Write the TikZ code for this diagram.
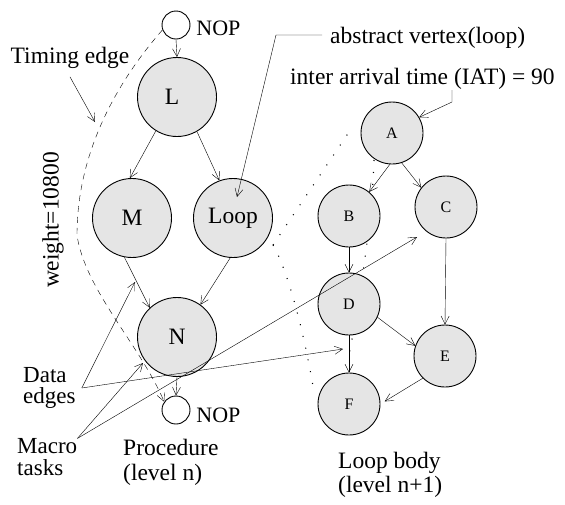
\documentclass[tikz,border=0pt]{standalone}
\usepackage{fontspec}
\setmainfont{Liberation Serif}
\usetikzlibrary{arrows.meta,calc,backgrounds}
\definecolor{cgray}{RGB}{229,229,229}
\begin{document}
\begin{tikzpicture}[x=1pt,y=-1pt,line width=0.9pt,
  bigc/.style={circle,draw,fill=cgray,minimum size=79pt,inner sep=0pt,font=\fontsize{23.5}{26}\selectfont},
  smallc/.style={circle,draw,fill=cgray,minimum size=62pt,inner sep=0pt,font=\fontsize{16}{18}\selectfont},
  nopc/.style={circle,draw,fill=white,minimum size=28pt,inner sep=0pt},
  lbl/.style={inner sep=0pt,font=\fontsize{23.5}{26}\selectfont},
  noplbl/.style={inner sep=0pt,font=\fontsize{22}{24}\selectfont,anchor=west},
  arr/.style={-{Straight Barb[length=8pt,width=8pt]}},
  timingline/.style={dash pattern=on 6pt off 5pt},
  dotl/.style={line width=1.1pt,dash pattern=on 1pt off 11pt}]
\useasboundingbox (0,0) rectangle (565,504);

% procedure level
\node[nopc] (nop1) at (176,25) {};
\node[noplbl] (nop1t) at (196,28) {NOP};
\node[bigc] (L) at (177,97) {\hspace*{-10pt}L};
\node[bigc] (M) at (132,218) {M};
\node[bigc] (Loop) at (233,218) {Loop};
\node[bigc] (N) at (177,337) {N};
\node[nopc] (nop2) at (176,410) {};
\node[noplbl] (nop2t) at (196,415) {NOP};

% loop body
\node[smallc] (A) at (392,133) {A};
\node[smallc] (B) at (349,216) {B};
\node[smallc] (C) at (446,207) {C};
\node[smallc] (D) at (349,304) {D};
\node[smallc] (E) at (445,356) {E};
\node[smallc] (F) at (349,404) {F};

% projection dotted lines (behind circles)
\coordinate (P) at (273,245);
\begin{pgfonlayer}{background}
\draw[dotl] (P) -- (349,132);
\draw[dotl] (P) .. controls (285,265) and (302,320) .. (314,392);
\draw[dotl] (374,160) .. controls (372,220) and (360,300) .. (348,360);
\end{pgfonlayer}

% edges procedure
\draw[arr] (nop1.south) -- (L.north);
\draw[arr] (L.238) -- (M.93);
\draw[arr] (L.300) -- (Loop.110);
\draw[arr] (M.259) -- (N.133);
\draw[arr] (Loop.266) -- (N.54);
\draw[arr] (N.south) -- (nop2.north);
\draw[arr,timingline] (nop1.200) .. controls (110,90) and (77,160) .. (77,235)
   .. controls (85,290) and (140,345) .. (nop2.145);

% edges loop body
\draw[arr] (A.266) -- (B.50);
\draw[arr] (A.288) -- (C.142);
\draw[arr] (B.south) -- (D.north);
\draw[arr] (C.south) -- (E.north);
\draw[arr] (D.335) -- (E.161);
\draw[arr] (D.south) -- (F.north);
\draw[arr,shorten >=5pt] (E.225) -- (F.east);

% labels
\node[lbl] (timing) at (70,58) {Timing edge};
\coordinate (te) at (95,122);
\draw[arr] ($(timing.south)+(0,8)$) -- (te);

\node[lbl,rotate=90] (weight) at (53,220) {weight=10800};

\node[lbl,align=left,anchor=west,font=\fontsize{23}{21.5}\selectfont] (data) at (23,388) {Data\\edges};
\coordinate (de1) at (135,282);
\coordinate (de2) at (343,349);
\draw[arr] ($(data.east)+(6,0)$) -- (de1);
\draw[arr] ($(data.east)+(6,0)$) -- (de2);

\node[lbl,align=left,anchor=west,font=\fontsize{23}{21.5}\selectfont] (macro) at (17,457) {Macro\\tasks};
\coordinate (mt1) at (143,363);
\coordinate (mt2) at (417,237);
\draw[arr] (macro.north east) -- (mt1);
\draw[arr] (macro.north east) -- (mt2);

\node[lbl,align=left,anchor=west,font=\fontsize{23.5}{25}\selectfont] (proc) at (123,462.5) {Procedure\\(level n)};
\node[lbl,align=left,anchor=west,font=\fontsize{23.5}{24}\selectfont] (body) at (338,475) {Loop body\\(level n+1)};

\node[lbl,anchor=base west] (abs) at (330,43) {abstract vertex(loop)};
\coordinate (absl) at (322,35);
\coordinate (absk) at (276,35);
\draw[arr] (absl) -- (absk) -- ($(Loop)+(4,-21)$);

\node[lbl,anchor=base west] (iat) at (290,84) {inter arrival time (IAT) = 90};
\coordinate (iatl) at (452,90);
\draw[arr] (iatl) -- ++(0,12) -- (A.30);
\end{tikzpicture}
\end{document}
